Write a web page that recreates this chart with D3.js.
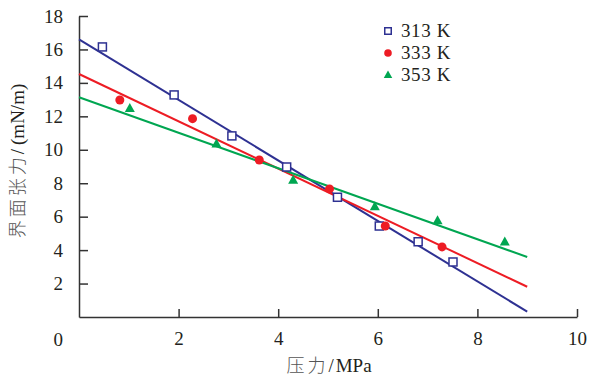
<!DOCTYPE html>
<html>
<head>
<meta charset="utf-8">
<script src="https://cdn.jsdelivr.net/npm/d3@7"></script>
<style>
  body { margin: 0; background: #fff; }
  svg text { font-family: "Liberation Serif", "Times New Roman", serif; fill: #231f20; }
</style>
</head>
<body>
<div id="chart"></div>
<script>
// Data
const series = ["313 K", "333 K", "353 K"];
const colors = ["#2e3192", "#ed1c24", "#00a651"];

const x313 = [0.47, 1.91, 3.07, 4.17, 5.19, 6.03, 6.81, 7.51];
const y313 = [16.15, 13.28, 10.83, 8.97, 7.16, 5.44, 4.50, 3.29];
const x333 = [0.82, 2.28, 3.62, 5.03, 6.15, 7.29];
const y333 = [12.98, 11.86, 9.39, 7.66, 5.44, 4.19];
const x353 = [1.02, 2.76, 4.30, 5.94, 7.20, 8.55];
const y353 = [12.48, 10.35, 8.19, 6.60, 5.76, 4.49];

// fitted lines: value at x=0 and at x=9
const fitStart = [16.6, 14.53, 13.14];
const fitEnd = [0.32, 1.81, 3.59];
const fitX = [0, 9];

const xTicks = [2, 4, 6, 8, 10];
const yTicks = [2, 4, 6, 8, 10, 12, 14, 16, 18];

const width = 589, height = 379;
const fs = "19px";

const svg = d3.select("#chart").append("svg")
    .attr("width", width)
    .attr("height", height);

const x = d3.scaleLinear().domain([0, 10]).range([79, 577]);
const y = d3.scaleLinear().domain([0, 18]).range([317, 16]);

// Axes
const xAxis = svg.append("g")
    .attr("transform", `translate(0,${y(0)})`)
    .call(d3.axisBottom(x).tickValues(xTicks).tickSizeInner(-8).tickSizeOuter(0).tickPadding(15));
const yAxis = svg.append("g")
    .attr("transform", `translate(${x(0)},0)`)
    .call(d3.axisLeft(y).tickValues(yTicks).tickSizeInner(-9).tickSizeOuter(0).tickPadding(16));

[xAxis, yAxis].forEach(a => {
    a.selectAll("path, line").attr("stroke", "#333").attr("stroke-width", 1.5);
    a.selectAll("text").style("font-size", fs).attr("fill", "#231f20")
        .style("font-family", "'Liberation Serif', serif");
});

// origin label
svg.append("text")
    .attr("x", 63)
    .attr("y", 346)
    .attr("text-anchor", "end")
    .style("font-size", fs)
    .text("0");

// Fit lines
const lineGen = d3.line().x(d => x(d[0])).y(d => y(d[1]));
series.forEach((s, i) => {
    svg.append("path")
        .attr("d", lineGen([[fitX[0], fitStart[i]], [fitX[1], fitEnd[i]]]))
        .attr("fill", "none")
        .attr("stroke", colors[i])
        .attr("stroke-width", 2);
});

// Markers
function square(g, cx, cy, s, c) {
    g.append("rect")
        .attr("x", cx - s / 2).attr("y", cy - s / 2)
        .attr("width", s).attr("height", s)
        .attr("fill", "#fff").attr("stroke", c).attr("stroke-width", 1.5);
}
function circle(g, cx, cy, r, c) {
    g.append("circle").attr("cx", cx).attr("cy", cy).attr("r", r).attr("fill", c);
}
function triangle(g, cx, cy, s, c) {
    const h = s * 0.9;
    g.append("path")
        .attr("d", `M${cx},${cy - h * 0.6}L${cx + s / 2},${cy + h * 0.4}L${cx - s / 2},${cy + h * 0.4}Z`)
        .attr("fill", c);
}

const pts = svg.append("g");
x313.forEach((v, i) => square(pts, x(v), y(y313[i]), 8, colors[0]));
x333.forEach((v, i) => circle(pts, x(v), y(y333[i]), 4.5, colors[1]));
x353.forEach((v, i) => triangle(pts, x(v), y(y353[i]), 10, colors[2]));

// Legend
const legend = svg.append("g");
const markers = [square, circle, triangle];
const msize = [6.5, 3.8, 8.5];
series.forEach((s, i) => {
    const ly = 31 + i * 22;
    markers[i](legend, 388, ly, msize[i], colors[i]);
    legend.append("text")
        .attr("x", 401)
        .attr("y", ly + 6)
        .style("font-size", fs)
        .style("letter-spacing", "0.6px")
        .text(s);
});

// Axis titles
const cjk = "font-family:'Noto Sans CJK SC';font-weight:300;font-size:18px;letter-spacing:3px";
svg.append("text")
    .attr("x", 329)
    .attr("y", 372)
    .attr("text-anchor", "middle")
    .style("font-size", fs)
    .html(`<tspan style="${cjk}" fill="#555">压力</tspan><tspan style="letter-spacing:2px">/</tspan>MPa`);

svg.append("text")
    .attr("transform", "translate(24,161) rotate(-90)")
    .attr("text-anchor", "middle")
    .style("font-size", fs)
    .html(`<tspan style="${cjk}" fill="#555">界面张力</tspan><tspan style="letter-spacing:4px">/</tspan>(mN/m)`);
</script>
</body>
</html>
